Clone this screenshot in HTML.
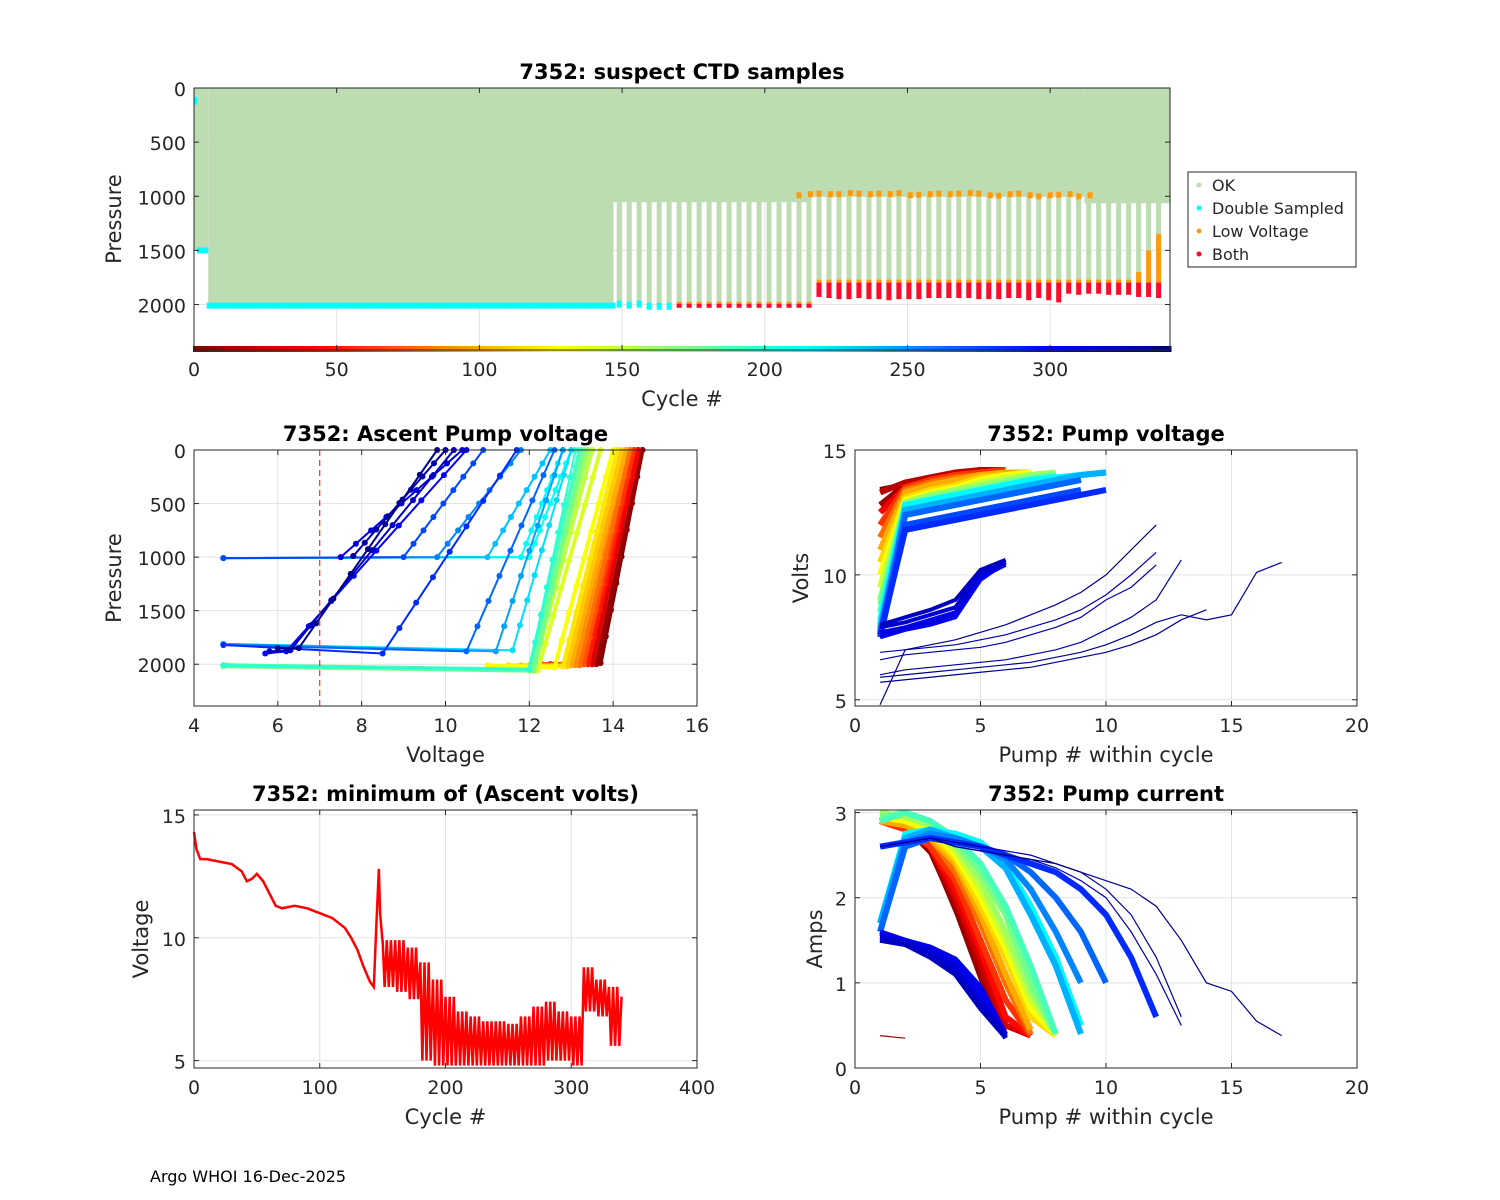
<!DOCTYPE html>
<html><head><meta charset="utf-8">
<style>
html,body{margin:0;padding:0;background:#fff;}
svg{display:block;font-family:"DejaVu Sans","Liberation Sans",sans-serif;}
.tk{font-size:19px;fill:#262626;}
.lb{font-size:21px;fill:#262626;}
.tt{font-size:21px;font-weight:bold;fill:#000;}
</style></head>
<body>
<svg id="s" width="1500" height="1200" xmlns="http://www.w3.org/2000/svg"></svg>
<script>
// ---------- data ----------
const topRuns = [[0,5,1500],[5,147,2005],[147,215,1055],[215,312,1005],[312,342,1065]];
const deepCycles = [149,152.5,156,159.5,163,166.5,170,173.5,177,180.5,184,187.5,191,194.5,198,201.5,205,208.5,212,215.5,219,222.5,226,229.5,233,236.5,240,243.5,247,250.5,254,257.5,261,264.5,268,271.5,275,278.5,282,285.5,289,292.5,296,299.5,303,306.5,310,313.5,317,320.5,324,327.5,331,334.5,338];
const deepDepths = [2010,2020,2010,2030,2030,2030,2030,2030,2030,2030,2030,2030,2030,2030,2030,2030,2030,2030,2030,2030,1930,1940,1950,1950,1940,1950,1950,1960,1950,1950,1950,1940,1940,1940,1940,1940,1950,1950,1950,1940,1940,1960,1940,1960,1980,1900,1910,1900,1900,1910,1910,1910,1930,1930,1940];
const lowVoltCycles = [212,216,219,223,226,230,233,237,240,244,247,251,254,258,261,265,268,272,275,279,282,286,289,293,296,300,303,307,310,314];
const lowVoltPress = [1000,990,985,990,990,980,985,990,985,990,980,1000,995,990,985,990,985,980,985,1000,1005,990,985,1000,1010,1000,995,990,1010,1000];
const lateOrange = [[331,1700],[334.5,1500],[338,1350]];
const topXTicks = [0,50,100,150,200,250,300];
const topYTicks = [0,500,1000,1500,2000];
// ascent profiles: [cycle, vLow, pLow, vBot, pBot, vTop]
const ascProfiles = [
 [2,12.8,2000,13.7,1990,14.7],[10,12.6,2000,13.6,2000,14.7],[20,12.5,2000,13.5,2000,14.6],[30,12.5,2000,13.5,2000,14.6],[40,12.4,2010,13.4,2000,14.6],
 [50,12.4,2010,13.4,2000,14.5],[60,12.3,2000,13.3,2000,14.5],[70,12.3,2000,13.3,2000,14.4],[80,12.2,2010,13.2,2010,14.4],[90,12.1,2010,13.1,2010,14.3],
 [100,12.0,2010,13.0,2010,14.3],[110,11.8,2010,12.9,2020,14.2],[120,11.5,2010,12.8,2020,14.1],[130,11.0,2010,12.6,2030,14.0],[140,4.7,2010,12.2,2060,13.7],
 [150,4.7,2010,12.1,2060,13.5],[160,4.8,2010,12.0,2060,13.4],[175,4.7,2020,12.1,2060,13.3],[190,4.7,2010,12.0,2050,13.2],
 [200,4.7,2010,12.0,2050,13.1],[205,4.7,1010,12.0,1000,13.0],[210,4.7,1010,12.0,1000,13.0],[215,4.7,1010,11.8,1000,12.8],[225,4.7,1810,11.6,1870,13.0],[235,4.7,1010,11.0,1000,12.5],
 [245,4.7,1810,11.2,1880,12.8],[255,4.7,1010,9.8,1000,11.8],[265,4.7,1820,10.5,1880,12.6],[275,4.7,1010,9.0,1000,10.9],
 [285,4.7,1820,8.5,1900,11.7],[300,5.7,1900,6.2,1880,10.5],[310,7.5,1000,7.5,1000,10.4],[320,5.8,1880,6.3,1870,10.2],
 [330,7.8,990,7.8,990,10.0],[338,6.0,1850,6.5,1850,9.8]];
const ascXTicks = [4,6,8,10,12,14,16];
const ascYTicks = [0,500,1000,1500,2000];
// pump voltage: [cycle, volts...]
const pumpVolts = [
 [2,13.4,13.6,13.9,14.0,14.2],[10,12.8,13.6,13.9,14.0,14.2],[20,13.3,13.7,13.9,14.1,14.2,14.2],[40,12.5,13.5,13.8,14.0,14.1,14.2],[60,12.0,13.5,13.8,14.0,14.1,14.2],
 [80,11.5,13.4,13.7,13.9,14.0,14.1,14.1],[100,11.0,13.3,13.6,13.8,14.0,14.1,14.1],[115,10.5,13.1,13.4,13.6,13.9,14.0,14.1],
 [130,10.0,13.0,13.3,13.5,13.8,14.0,14.1],[145,9.5,12.9,13.2,13.4,13.7,13.9,14.0,14.1],[160,9.0,12.9,13.2,13.4,13.6,13.8,14.0,14.1],[175,8.8,12.8,13.1,13.3,13.5,13.7,13.9,14.0],[190,8.5,12.8,13.0,13.2,13.4,13.6,13.8,14.0],
 [205,8.2,12.8,13.0,13.2,13.4,13.6,13.8,13.9,14.0,14.1],[215,8.0,12.8,13.0,13.2,13.4,13.6,13.8,13.9,14.0,14.1],[230,7.9,12.6,12.8,13.0,13.2,13.4,13.6,13.8,14.0,14.1],[240,7.8,12.6,12.8,13.0,13.2,13.4,13.6,13.8,14.0,14.1],
 [255,7.7,12.4,12.6,12.8,13.0,13.2,13.4,13.6,13.8],[265,7.6,12.4,12.6,12.8,13.0,13.2,13.4,13.6,13.8],[275,7.5,12.0,12.2,12.4,12.6,12.8,13.0,13.2,13.4],[285,7.6,11.8,12.0,12.2,12.4,12.6,12.8,13.0,13.2,13.4],
 [300,7.5,7.8,8.0,8.3,9.8,10.5],[305,7.7,7.9,8.2,8.5,9.9,10.4],[310,7.6,7.9,8.1,8.4,10.0,10.5],[315,7.9,8.1,8.4,8.7,10.1,10.6],[320,8.0,8.3,8.6,9.0,10.2,10.6],
 [325,6.6,6.8,6.9,7.0,7.1,7.3,7.6,7.9,8.3,9.0,9.5,10.4],[328,6.9,7.0,7.1,7.2,7.4,7.6,7.9,8.2,8.6,9.2,10.0,10.9],[330,6.0,6.2,6.3,6.4,6.5,6.6,6.8,7.0,7.3,7.8,8.3,9.0,10.6],
 [333,5.7,5.8,5.9,6.0,6.1,6.2,6.3,6.5,6.7,6.9,7.2,7.6,8.2,8.6],
 [336,5.9,6.0,6.1,6.2,6.3,6.4,6.5,6.7,6.9,7.2,7.6,8.1,8.4,8.2,8.4,10.1,10.5],[338,4.8,7.0,7.2,7.4,7.7,8.0,8.4,8.8,9.3,10.0,11.0,12.0]];
const pvXTicks = [0,5,10,15,20];
const pvYTicks = [5,10,15];
// minimum ascent volts
const minCycles = [0,2,5,10,20,30,38,42,46,50,55,60,65,70,80,90,100,110,120,125,130,135,140,143,145,147,148,150];
const minVolts = [14.3,13.6,13.2,13.2,13.1,13.0,12.7,12.3,12.4,12.6,12.3,11.8,11.3,11.2,11.3,11.2,11.0,10.8,10.4,10.0,9.5,8.8,8.2,8.0,10.5,12.8,11.0,9.8];
const oscStart = [150,160,170,180,190,200,210,220,230,240,250,260,270,280,290,300,310,320,330];
const oscHigh = [9.9,9.9,9.6,9.0,8.3,7.6,7.0,6.8,6.6,6.6,6.5,6.8,7.2,7.4,7.0,6.8,8.8,8.3,8.0];
const oscLow = [8.0,7.8,7.5,5.0,4.8,4.8,4.8,4.8,4.8,4.8,4.8,4.8,4.8,5.0,5.0,4.8,7.0,6.8,5.6];
const minXTicks = [0,100,200,300,400];
const minYTicks = [5,10,15];
// pump current
const pumpAmps = [
 [2,2.9,2.8,2.5,1.8,1.0,0.4],[10,2.95,2.85,2.55,1.9,1.1,0.45],[20,2.95,2.85,2.6,2.0,1.2,0.45],[30,2.9,2.85,2.6,2.0,1.3,0.5,0.38],[45,2.9,2.8,2.6,2.1,1.4,0.6,0.38],
 [60,2.9,2.8,2.6,2.2,1.5,0.8,0.38],[80,2.9,2.85,2.7,2.3,1.7,1.0,0.4],[100,2.9,2.85,2.7,2.4,1.8,1.1,0.45],[115,2.95,2.9,2.75,2.45,1.9,1.3,0.6,0.38],
 [130,2.95,2.9,2.8,2.5,2.0,1.4,0.7,0.38],[145,3.0,2.95,2.85,2.55,2.1,1.5,0.8,0.4],[160,3.0,2.95,2.85,2.6,2.2,1.6,0.9,0.4],[175,2.95,3.0,2.9,2.65,2.3,1.8,1.0,0.4],[190,2.9,3.0,2.9,2.7,2.4,1.9,1.2,0.4],
 [205,1.7,2.75,2.8,2.75,2.65,2.4,1.9,1.3,0.5],[215,1.7,2.75,2.8,2.75,2.65,2.4,1.9,1.3,0.5],[230,1.7,2.7,2.8,2.7,2.6,2.35,1.8,1.2,0.4],[240,1.7,2.7,2.8,2.7,2.6,2.35,1.8,1.2,0.4],
 [255,1.6,2.65,2.75,2.7,2.6,2.45,2.1,1.6,1.0],[265,1.6,2.6,2.7,2.65,2.6,2.5,2.3,2.0,1.6,1.0],[285,2.6,2.65,2.7,2.65,2.6,2.5,2.4,2.3,2.1,1.8,1.3,0.6],
 [300,1.6,1.5,1.4,1.25,0.9,0.35],[305,1.58,1.5,1.42,1.28,0.95,0.4],[310,1.55,1.48,1.38,1.2,0.8,0.38],[315,1.52,1.46,1.35,1.15,0.75,0.37],[320,1.5,1.45,1.3,1.1,0.7,0.36],
 [325,2.6,2.65,2.7,2.6,2.55,2.5,2.45,2.35,2.2,2.0,1.6,1.1,0.5],[330,2.6,2.65,2.7,2.65,2.6,2.55,2.5,2.4,2.3,2.1,1.8,1.3,0.6],[336,2.6,2.65,2.7,2.6,2.55,2.5,2.45,2.4,2.3,2.2,2.1,1.9,1.5,1.0,0.9,0.55,0.38],
 [5,0.38,0.35]];
const pcXTicks = [0,5,10,15,20];
const pcYTicks = [0,1,2,3];

// ---------- helpers ----------
const svg = document.getElementById('s');
const NS = 'http://www.w3.org/2000/svg';
function mk(tag, attrs, parent){ const e=document.createElementNS(NS,tag); for(const k in attrs) e.setAttribute(k,attrs[k]); (parent||svg).appendChild(e); return e; }
function jet(c){ const t=1-c/342; const f=v=>Math.round(255*Math.max(0,Math.min(1,v)));
  return `rgb(${f(1.5-Math.abs(4*t-3))},${f(1.5-Math.abs(4*t-2))},${f(1.5-Math.abs(4*t-1))})`; }
function axes(o){
  const g=mk('g',{});
  
  
  const X=v=>o.x0+(v-o.xmin)/(o.xmax-o.xmin)*(o.x1-o.x0);
  const Y=o.yrev? v=>o.y0+(v-o.ymin)/(o.ymax-o.ymin)*(o.y1-o.y0) : v=>o.y1-(v-o.ymin)/(o.ymax-o.ymin)*(o.y1-o.y0);
  mk('rect',{x:o.x0,y:o.y0,width:o.x1-o.x0,height:o.y1-o.y0,fill:'#fff'},g);
  const grid=mk('g',{stroke:'#e3e3e3','stroke-width':1},g);
  o.xt.forEach(v=>mk('line',{x1:X(v),x2:X(v),y1:o.y0,y2:o.y1},grid));
  o.yt.forEach(v=>mk('line',{y1:Y(v),y2:Y(v),x1:o.x0,x2:o.x1},grid));
  const plot=mk('g',{},g);
  return {g,plot,X,Y,o};
}
function finish(A){
  const {g,X,Y,o}=A;
  mk('rect',{x:o.x0,y:o.y0,width:o.x1-o.x0,height:o.y1-o.y0,fill:'none',stroke:'#262626','stroke-width':1},g);
  o.xt.forEach(v=>{ mk('line',{x1:X(v),x2:X(v),y1:o.y1,y2:o.y1-5,stroke:'#262626'},g); mk('line',{x1:X(v),x2:X(v),y1:o.y0,y2:o.y0+5,stroke:'#262626'},g);
    const t=mk('text',{x:X(v),y:o.y1+26,'text-anchor':'middle',class:'tk'},g); t.textContent=v;   });
  o.yt.forEach(v=>{ mk('line',{x1:o.x0,x2:o.x0+5,y1:Y(v),y2:Y(v),stroke:'#262626'},g); mk('line',{x1:o.x1,x2:o.x1-5,y1:Y(v),y2:Y(v),stroke:'#262626'},g);
    const t=mk('text',{x:o.x0-8,y:Y(v)+8,'text-anchor':'end',class:'tk'},g); t.textContent=v;   });
  const tt=mk('text',{x:(o.x0+o.x1)/2,y:o.y0-9,'text-anchor':'middle',class:'tt'},g); tt.textContent=o.title;
   
  const xl=mk('text',{x:(o.x0+o.x1)/2,y:o.y1+56,'text-anchor':'middle',class:'lb'},g); xl.textContent=o.xlab;
   
  const yx=o.ylx, yy=(o.y0+o.y1)/2;
  const yl=mk('text',{x:yx,y:yy,'text-anchor':'middle',class:'lb',transform:`rotate(-90 ${yx} ${yy})`},g); yl.textContent=o.ylab;
   
}

// ---------- top chart ----------
(function(){
  const A=axes({name:'suspect-ctd-chart',x0:194,x1:1170,y0:88,y1:350,xmin:0,xmax:342,ymin:0,ymax:2420,yrev:true,xt:topXTicks,yt:topYTicks,
    title:'7352: suspect CTD samples',xlab:'Cycle #',ylab:'Pressure',ylx:121});
  const {plot,X,Y}=A; const G='#bddcb2';
  topRuns.forEach(r=>{ const e=mk('rect',{x:X(r[0]),y:Y(0),width:X(r[1])-X(r[0]),height:Y(r[2])-Y(0),fill:G},plot);
      });
  deepCycles.forEach((c,i)=>{ const d=deepDepths[i];
    const e=mk('rect',{x:X(c)-2.5,y:Y(0),width:5,height:Y(d)-Y(0),fill:G},plot);
     
    if(c<168){ mk('rect',{x:X(c)-2.5,y:Y(d)-5,width:5,height:7,fill:'#00ffff'},plot); }
    else if(c<217){ mk('rect',{x:X(c)-2.5,y:Y(1985),width:5,height:Y(d)-Y(1985),fill:'#ff0a2a'},plot); mk('rect',{x:X(c)-2.5,y:Y(1975),width:5,height:2,fill:'#ff9a10'},plot); }
    else { mk('rect',{x:X(c)-2.5,y:Y(1790),width:5,height:Y(d)-Y(1790),fill:'#ff0a2a'},plot); mk('rect',{x:X(c)-2.5,y:Y(1770),width:5,height:3,fill:'#ff9a10'},plot); }
  });
  lateOrange.forEach(p=>{ mk('rect',{x:X(p[0])-2.5,y:Y(p[1]),width:5,height:Y(1790)-Y(p[1]),fill:'#ff9a10'},plot); });
  for(let c=5;c<=147;c+=1){ mk('rect',{x:X(c)-1.5,y:Y(2010)-3,width:3,height:6,fill:'#00ffff'},plot); }
  mk('rect',{x:X(1),y:Y(1500)-3,width:X(5)-X(1),height:6,fill:'#00ffff'},plot);
  mk('rect',{x:X(0),y:Y(80),width:3,height:8,fill:'#00ffff'},plot);
  lowVoltCycles.forEach((c,i)=>{ const e=mk('rect',{x:X(c)-2.5,y:Y(lowVoltPress[i])-4,width:5,height:6,fill:'#ff9a10'},plot);
      });
  for(let c=0;c<=342;c+=0.5){ mk('rect',{x:X(c)-1,y:346,width:2.5,height:6,fill:jet(c)},plot); }
  finish(A);
  const lg=mk('g',{});  
  mk('rect',{x:1188,y:172,width:168,height:95,fill:'#fff',stroke:'#262626'},lg);
  [['OK','#bddcb2'],['Double Sampled','#00ffff'],['Low Voltage','#ff9a10'],['Both','#ff0a2a']].forEach((e,i)=>{
    const y=185+i*23; mk('circle',{cx:1199,cy:y,r:2.5,fill:e[1]},lg);
    const t=mk('text',{x:1212,y:y+6,style:'font-size:16px',fill:'#262626'},lg); t.textContent=e[0];
      });
})();

// ---------- ascent pump voltage ----------
(function(){
  const A=axes({name:'ascent-pump-voltage-chart',x0:194,x1:697,y0:450,y1:706,xmin:4,xmax:16,ymin:0,ymax:2390,yrev:true,xt:ascXTicks,yt:ascYTicks,
    title:'7352: Ascent Pump voltage',xlab:'Voltage',ylab:'Pressure',ylx:121});
  const {plot,X,Y}=A;
  ascProfiles.forEach(p=>{ const col=jet(p[0]);
    const pts=[[p[1],p[2]],[p[3],p[4]],[p[5],0]];
    const w = p[0]<200 ? 4 : 2;
    const e=mk('polyline',{points:pts.map(q=>X(q[0])+','+Y(q[1])).join(' '),fill:'none',stroke:col,'stroke-width':w},plot);
     
    for(let k=0;k<=8;k++){ const f=k/8; const v=p[3]+(p[5]-p[3])*f, pr=p[4]*(1-f); mk('circle',{cx:X(v),cy:Y(pr),r:3,fill:col},plot); }
    mk('circle',{cx:X(p[1]),cy:Y(p[2]),r:3,fill:col},plot);
  });
  const d=mk('line',{x1:X(7),x2:X(7),y1:450,y2:706,stroke:'#ff0000','stroke-dasharray':'6,4','stroke-width':1},plot);
   
  finish(A);
})();

// ---------- pump voltage ----------
(function(){
  const A=axes({name:'pump-voltage-chart',x0:855,x1:1357,y0:450,y1:706,xmin:0,xmax:20,ymin:4.75,ymax:15,yrev:false,xt:pvXTicks,yt:pvYTicks,
    title:'7352: Pump voltage',xlab:'Pump # within cycle',ylab:'Volts',ylx:808});
  const {plot,X,Y}=A;
  pumpVolts.forEach(r=>{ const c=r[0], v=r.slice(1);
    const w = c<300 ? 6 : (c<=320 ? 4 : 1.2);
    const e=mk('polyline',{points:v.map((y,i)=>X(i+1)+','+Y(y)).join(' '),fill:'none',stroke:jet(c),'stroke-width':w},plot);
      });
  finish(A);
})();

// ---------- min voltage ----------
(function(){
  const A=axes({name:'min-ascent-volts-chart',x0:194,x1:697,y0:810,y1:1068,xmin:0,xmax:400,ymin:4.7,ymax:15.2,yrev:false,xt:minXTicks,yt:minYTicks,
    title:'7352: minimum of (Ascent volts)',xlab:'Cycle #',ylab:'Voltage',ylx:148});
  const {plot,X,Y}=A;
  const pts=minCycles.map((c,i)=>[c,minVolts[i]]);
  oscStart.forEach((c,i)=>{ for(let k=0;k<3;k++){ pts.push([c+k*3.3,oscHigh[i]]); pts.push([c+k*3.3+1.6,oscLow[i]]); } });
  pts.push([340,7.6]);
  const e=mk('polyline',{points:pts.map(p=>X(p[0])+','+Y(p[1])).join(' '),fill:'none',stroke:'#ff0000','stroke-width':2.5},plot);
   
  finish(A);
})();

// ---------- pump current ----------
(function(){
  const A=axes({name:'pump-current-chart',x0:855,x1:1357,y0:810,y1:1068,xmin:0,xmax:20,ymin:0,ymax:3.03,yrev:false,xt:pcXTicks,yt:pcYTicks,
    title:'7352: Pump current',xlab:'Pump # within cycle',ylab:'Amps',ylx:822});
  const {plot,X,Y}=A;
  pumpAmps.forEach(r=>{ const c=r[0], v=r.slice(1);
    const w = (c>=10&&c<300) ? 6 : (c>=300&&c<=320 ? 5 : 1.2);
    const e=mk('polyline',{points:v.map((y,i)=>X(i+1)+','+Y(y)).join(' '),fill:'none',stroke:jet(c),'stroke-width':w},plot);
      });
  finish(A);
})();

const ft=mk('text',{x:150,y:1182,style:'font-size:16px',fill:'#000'}); ft.textContent='Argo WHOI 16-Dec-2025';
 
</script>
</body></html>
